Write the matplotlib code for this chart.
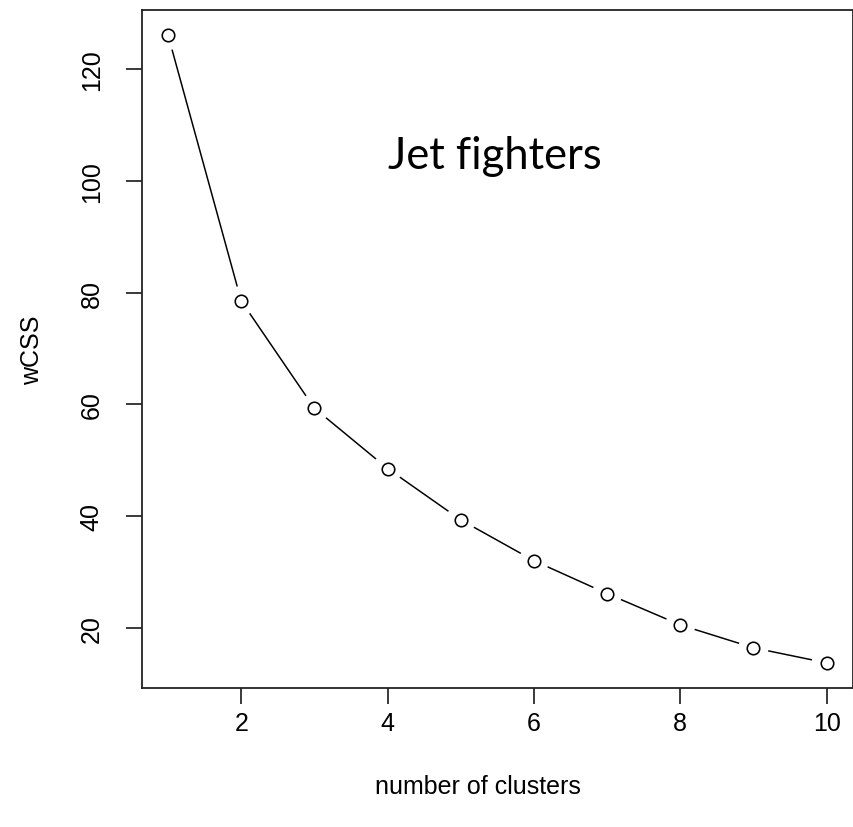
import numpy as np
import matplotlib
matplotlib.use("Agg")
import matplotlib.pyplot as plt

clusters = [1, 2, 3, 4, 5, 6, 7, 8, 9, 10]
wcss = [126.1, 78.5, 59.3, 48.5, 39.3, 32.0, 26.1, 20.5, 16.4, 13.7]
xticks = [2, 4, 6, 8, 10]
yticks = [20, 40, 60, 80, 100, 120]
title_text = "Jet fighters"
xlabel = "number of clusters"
ylabel = "wCSS"

W, H, DPI = 854, 828, 100
fig = plt.figure(figsize=(W / DPI, H / DPI), dpi=DPI)
L, R, T, B = 141.7, 853.0, 11.0, 689.0
ax = fig.add_axes([L / W, 1 - B / H, (R - L) / W, (B - T) / H])

def r_lim(v):
    lo, hi = min(v), max(v)
    d = (hi - lo) * 0.04
    return lo - d, hi + d

ax.set_xlim(*r_lim(clusters))
ax.set_ylim(*r_lim(wcss))

px = 72.0 / DPI  # points per pixel
fig.canvas.draw()
# type="b": points with gapped segments
trans = ax.transData
inv = trans.inverted()
pts = trans.transform(np.column_stack([clusters, wcss]))
gap = 15.0
for i in range(len(pts) - 1):
    p0, p1 = pts[i], pts[i + 1]
    d = p1 - p0
    n = np.hypot(*d)
    if n <= 2 * gap:
        continue
    u = d / n
    a = inv.transform(p0 + u * gap)
    b = inv.transform(p1 - u * gap)
    ax.plot([a[0], b[0]], [a[1], b[1]], color="black", lw=1.5 * px,
            solid_capstyle="butt")
ax.plot(clusters, wcss, linestyle="none", marker="o", ms=12.5 * px,
        mfc="white", mec="black", mew=1.6 * px)

for s in ax.spines.values():
    s.set_linewidth(1.8 * px)
    s.set_color("#222222")

ax.set_xticks(xticks)
ax.set_yticks(yticks)
ax.set_xticklabels([str(t) for t in xticks])
ax.set_yticklabels([str(t) for t in yticks], rotation=90, va="center")
fs = 18
ax.tick_params(axis="both", direction="out", length=16 * px, width=1.5 * px,
               labelsize=fs, colors="black")
ax.tick_params(axis="x", pad=7 * px)
ax.tick_params(axis="y", pad=22 * px)
for lab in ax.get_xticklabels() + ax.get_yticklabels():
    lab.set_family("Liberation Sans")

ax.set_xlabel(xlabel, fontsize=fs, family="Liberation Sans")
ax.xaxis.set_label_coords((478 - L) / (R - L), -(787 - B) / (B - T))
ax.xaxis.label.set_va("center")
ax.set_ylabel(ylabel, fontsize=fs, family="Liberation Sans")
ax.yaxis.set_label_coords((32 - L) / (R - L), 0.5)
ax.yaxis.label.set_va("center")

# title text inside the plot (Calibri-like)
t = fig.text(495 / W, 1 - 169 / H, title_text, ha="center", va="baseline",
             fontsize=30, family="Lato", color="black")
fig.canvas.draw()
bb = t.get_window_extent()
t.set_fontsize(30 * 214.0 / bb.width)

fig.savefig("out.png", dpi=DPI)
